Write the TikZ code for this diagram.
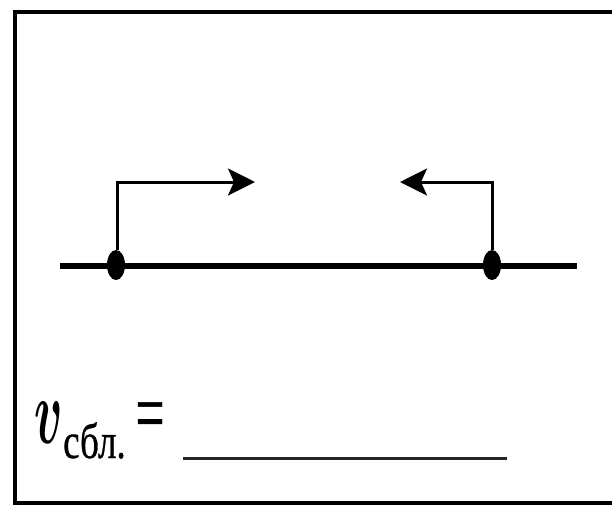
\documentclass[tikz,border=0pt]{standalone}
\usepackage{fontspec}
\setmainfont{Liberation Serif}
\newfontfamily\lblfont[FakeBold=0.8]{Liberation Serif}
\usetikzlibrary{arrows.meta, shapes.geometric}
\tikzset{>={Stealth[length=27pt,width=27pt,inset=6pt]}}
\tikzset{body/.style={ellipse, fill=black, draw=none, inner sep=0pt, minimum width=18pt, minimum height=30pt}}
\tikzset{vel/.style={line width=3pt, line join=miter}}
\tikzset{lbl/.style={inner sep=0pt}}

\begin{document}
\begin{tikzpicture}[x=1pt,y=-1pt]
    \useasboundingbox (0,0) rectangle (612,507);
    \draw[line width=4pt] (612,12) -- (15,12) -- (15,503) -- (612,503);

    \coordinate (axl) at (60,266);
    \coordinate (axr) at (577,266);
    \draw[line width=6pt] (axl) -- (axr);
    \node[body] (Bl) at (116,265) {};
    \node[body] (Br) at (492,265) {};

    \coordinate (cl) at (117,182);
    \coordinate (tl) at (255,182);
    \coordinate (cr) at (492,182);
    \coordinate (tr) at (400,182);
    \draw[vel, ->] (Bl.north -| cl) -- (cl) -- (tl);
    \draw[vel, ->] (Br.north) -- (cr) -- (tr);

    \node[lbl, anchor=base west] (v) at (34,443) {\scalebox{4.7}[9.3]{\boldmath$v$}};
    \node[lbl, anchor=base west, font=\fontsize{50}{50}\lblfont] (sub) at (63,458) {\scalebox{0.74}[1]{сбл.}};
    \node[lbl, font=\fontsize{86}{86}\lblfont] (eq) at (150,422) {\scalebox{0.6}[1]{=}};
    \coordinate (ul) at (183,458);
    \coordinate (ur) at (507,458);
    \draw[line width=3pt, black!85] (ul) -- (ur);
\end{tikzpicture}
\end{document}
